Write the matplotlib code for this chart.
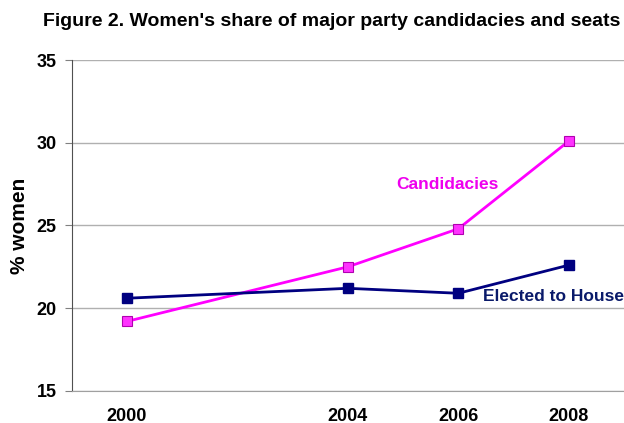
import matplotlib.pyplot as plt

years = [2000, 2004, 2006, 2008]
candidacies = [19.2, 22.5, 24.8, 30.1]
elected = [20.6, 21.2, 20.9, 22.6]
yticks = [15, 20, 25, 30, 35]

plt.rcParams["font.family"] = ["Liberation Sans", "DejaVu Sans"]
plt.rcParams["font.weight"] = "bold"

fig = plt.figure(figsize=(6.24, 4.23), dpi=100)
ax = fig.add_axes([0.115, 0.076, 0.885, 0.782])

ax.plot(years, candidacies, color="#ff00ff", lw=2, marker="s", ms=7,
        mfc="#ff33ff", mec="#b000b0", mew=0.8, zorder=3)
ax.plot(years, elected, color="#000080", lw=2, marker="s", ms=7,
        mfc="#000080", mec="#000080", zorder=3)

ax.text(2004.87, 27.45, "Candidacies", color="#ee00ee", fontsize=12.5,
        fontweight="bold", va="center")
ax.text(2006.45, 20.68, "Elected to House", color="#0a1a6a", fontsize=12.5,
        fontweight="bold", va="center")

ax.set_xlim(1999, 2009)
ax.set_ylim(15, 35)
ax.set_xticks(years)
ax.set_yticks(yticks)
ax.tick_params(axis="x", length=0, labelsize=13, pad=12)
ax.tick_params(axis="y", length=5, color="#808080", labelsize=13, pad=6)
for t in ax.get_xticklabels() + ax.get_yticklabels():
    t.set_fontweight("bold")

ax.grid(axis="y", color="#b0b0b0", lw=1)
ax.set_axisbelow(True)
for s in ["top", "right"]:
    ax.spines[s].set_visible(False)
ax.spines["bottom"].set_color("#a0a0a0")
ax.spines["left"].set_color("#505050")

ax.set_ylabel("% women", fontsize=15, fontweight="bold", labelpad=5)
fig.text(0.531, 0.938, "Figure 2. Women's share of major party candidacies and seats",
         ha="center", fontsize=14, fontweight="bold")

fig.savefig("out.png", dpi=100)
